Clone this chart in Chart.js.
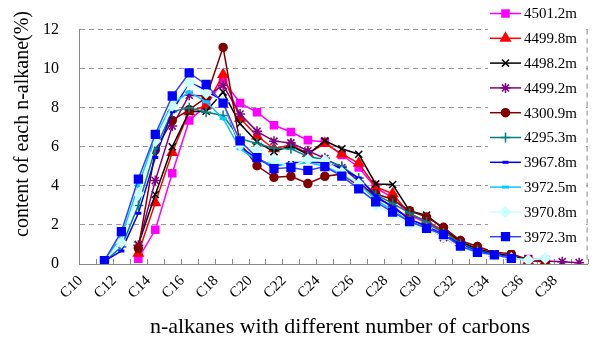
<!DOCTYPE html>
<html lang="en">
<head>
    <meta charset="UTF-8">
    <title>n-alkanes</title>
    <script src="https://cdn.jsdelivr.net/npm/chart.js"></script>
    <style>
        body { margin: 0; padding: 0; background: #ffffff; }
        #wrap { width: 600px; height: 341px; }
    </style>
</head>
<body>
    <div id="wrap"><canvas id="chart" width="600" height="341"></canvas></div>

    <script>
        // categories C10 .. C39
        const categories = ['C10','C11','C12','C13','C14','C15','C16','C17','C18','C19',
                            'C20','C21','C22','C23','C24','C25','C26','C27','C28','C29',
                            'C30','C31','C32','C33','C34','C35','C36','C37','C38','C39'];
        const yTicks = [0, 2, 4, 6, 8, 10, 12];

        const d4501_2 = [null,null,null,0.27,1.75,4.65,7.35,8.1,9.4,8.24, 7.77,7.1,6.76,6.34,6.25,5.58,4.94,3.9,3.4,2.5, 2.1,1.6,1.05,0.7,0.5,0.35,0.25,0.2,null,null];
        const d4499_8 = [null,null,null,0.55,3.14,5.71,7.8,8.1,9.7,7.46, 6.55,5.9,6.1,5.66,6.17,5.63,5.16,3.95,3.6,2.55, 2.2,1.7,1.1,0.8,0.55,0.4,0.15,0.12,null,null];
        const d4498_2 = [null,null,null,1.0,3.56,6.0,7.8,7.82,8.8,7.18, 6.25,5.75,6.05,5.61,6.3,5.9,5.62,4.1,4.07,2.72, 2.5,1.8,1.15,0.75,0.55,0.4,0.25,0.15,null,null];
        const d4499_2 = [null,null,null,0.96,4.27,7.06,8.64,8.6,9.14,7.68, 6.79,6.29,6.2,5.8,5.41,4.94,4.24,3.39,2.97,2.3, 1.9,1.35,0.9,0.6,0.45,0.35,0.18,0.15,0.12,0.07];
        const d4300_9 = [null,null,null,0.8,5.83,7.35,7.9,8.52,11.09,6.17, 5.03,4.44,4.49,4.12,4.49,4.6,4.0,3.6,3.3,2.72, 2.4,1.88,1.2,0.9,0.6,0.52,0.22,0.15,null,null];
        const d4295_3 = [null,0.15,0.87,3.0,5.9,7.8,8.0,7.77,7.6,6.42, 6.17,5.92,5.9,5.5,5.35,5.0,4.4,3.55,3.1,2.6, 2.15,1.6,1.05,0.7,0.5,0.35,0.2,null,null,null];
        const d3967_8 = [null,0.15,0.67,2.6,5.45,7.8,9.3,8.9,8.3,6.0, 5.4,5.0,5.2,5.2,5.2,4.9,4.4,3.5,2.9,2.3, 1.95,1.5,1.0,0.65,0.5,0.32,0.22,null,null,null];
        const d3972_5 = [null,0.2,1.4,4.0,6.5,8.2,8.8,8.3,7.45,5.9, 5.3,5.1,5.1,5.2,5.0,4.6,4.1,3.3,2.75,2.2, 1.85,1.4,0.95,0.6,0.45,0.3,0.2,0.25,null,null];
        const d3970_8 = [null,0.15,1.1,3.6,6.3,8.1,9.3,8.75,8.3,6.1, 5.85,5.3,5.0,5.35,5.3,4.7,4.1,3.0,2.55,2.0, 1.8,1.4,0.85,0.55,0.42,0.3,0.2,0.3,null,null];
        const d3972_3 = [null,0.17,1.66,4.35,6.64,8.6,9.78,9.19,8.24,6.3, 5.45,4.88,4.94,4.79,4.99,4.5,3.85,3.18,2.66,2.17, 1.83,1.5,0.91,0.6,0.47,0.29,null,null,null,null];

        const serif = "'Times New Roman', 'Liberation Serif', serif";

        function series(label, data, color, lineColor, style, radius) {
            return {
                label: label,
                data: data,
                borderColor: lineColor,
                backgroundColor: color,
                borderWidth: 1.5,
                pointStyle: style,
                pointRadius: radius,
                pointBackgroundColor: color,
                pointBorderColor: color,
                pointBorderWidth: (style === 'line' ? 3 : 1.5),
                tension: 0,
                spanGaps: false
            };
        }

        const datasets = [
            series('4501.2m', d4501_2, '#FF00FF', '#FF00FF', 'rect', 5),
            series('4499.8m', d4499_8, '#FF0000', '#FF0000', 'triangle', 5.5),
            series('4498.2m', d4498_2, '#000000', '#000000', 'crossRot', 5),
            series('4499.2m', d4499_2, '#800080', '#800080', 'star', 5),
            series('4300.9m', d4300_9, '#800000', '#800000', 'circle', 4),
            series('4295.3m', d4295_3, '#008080', '#008080', 'cross', 5),
            series('3967.8m', d3967_8, '#0000FF', '#0000FF', 'line', 3),
            series('3972.5m', d3972_5, '#00CCFF', '#00CCFF', 'line', 3.5),
            series('3970.8m', d3970_8, '#CCFFFF', '#CCFFFF', 'rectRot', 5),
            series('3972.3m', d3972_3, '#0000FF', '#3344FF', 'rect', 5.5)
        ];
        // Excel draws later series on top
        datasets.forEach((ds, i) => { ds.order = datasets.length - i; });

        // inner tick marks, dashed right border, axis titles and legend
        const extras = {
            id: 'extras',
            beforeDatasetsDraw(chart) {
                const ctx = chart.ctx;
                const a = chart.chartArea;
                const n = categories.length;
                ctx.save();
                ctx.strokeStyle = '#888888';
                ctx.lineWidth = 1;
                ctx.beginPath();
                for (let i = 0; i <= n; i++) {
                    const x = Math.round(a.left + i * (a.right - a.left) / n) + 0.5;
                    ctx.moveTo(x, a.bottom);
                    ctx.lineTo(x, a.bottom - 5);
                }
                ctx.stroke();
                ctx.setLineDash([5, 4]);
                ctx.beginPath();
                ctx.moveTo(a.right - 0.5, a.top);
                ctx.lineTo(a.right - 0.5, a.bottom);
                ctx.stroke();
                ctx.restore();
            },
            afterDraw(chart) {
                const ctx = chart.ctx;
                ctx.save();
                ctx.fillStyle = '#000000';
                ctx.textAlign = 'center';
                ctx.textBaseline = 'middle';
                ctx.font = '22px ' + serif;
                ctx.fillText('n-alkanes with different number of carbons', 340, 327);
                ctx.translate(23, 124);
                ctx.rotate(-Math.PI / 2);
                ctx.font = '20px ' + serif;
                ctx.fillText('content of each n-alkane(%)', 0, 0);
                ctx.restore();

                // legend
                ctx.save();
                ctx.fillStyle = '#ffffff';
                ctx.fillRect(488, 0, 98, 250);
                ctx.font = '15px ' + serif;
                ctx.textAlign = 'left';
                ctx.textBaseline = 'middle';
                chart.data.datasets.forEach((ds, i) => {
                    const y = 13.5 + i * 24.8;
                    ctx.strokeStyle = ds.borderColor;
                    ctx.lineWidth = 1.5;
                    ctx.beginPath();
                    ctx.moveTo(490, y);
                    ctx.lineTo(521, y);
                    ctx.stroke();
                    ctx.fillStyle = ds.pointBackgroundColor;
                    ctx.strokeStyle = ds.pointBorderColor;
                    ctx.lineWidth = ds.pointBorderWidth;
                    Chart.helpers.drawPoint(ctx, {
                        pointStyle: ds.pointStyle,
                        radius: ds.pointRadius,
                        rotation: 0,
                        borderWidth: ds.pointBorderWidth
                    }, 505.5, y);
                    ctx.fillStyle = '#000000';
                    ctx.fillText(ds.label, 524, y + 1);
                });
                ctx.restore();
            }
        };

        new Chart(document.getElementById('chart'), {
            type: 'line',
            data: { labels: categories, datasets: datasets },
            options: {
                responsive: false,
                animation: false,
                layout: { padding: { left: 0, right: 7.6, top: 15.4, bottom: 0 } },
                plugins: { legend: { display: false }, tooltip: { enabled: false } },
                scales: {
                    x: {
                        type: 'category',
                        offset: true,
                        afterFit: s => { s.height = 77; },
                        grid: { display: false, drawTicks: false },
                        border: { display: true, color: '#888888', width: 1 },
                        ticks: {
                            autoSkip: false,
                            maxRotation: 45,
                            minRotation: 45,
                            padding: 8,
                            labelOffset: -7,
                            color: '#000000',
                            font: { family: serif, size: 15 },
                            callback: (v, i) => (i % 2 === 0 ? categories[i] : '')
                        }
                    },
                    y: {
                        min: yTicks[0],
                        max: yTicks[yTicks.length - 1],
                        afterFit: s => { s.width = 79; },
                        afterBuildTicks: s => { s.ticks = yTicks.map(v => ({ value: v })); },
                        grid: { color: '#999999', lineWidth: 1, drawTicks: false },
                        border: { display: true, color: '#888888', width: 1, dash: [5, 4] },
                        ticks: {
                            padding: 20,
                            color: '#000000',
                            font: { family: serif, size: 16 }
                        }
                    }
                }
            },
            plugins: [extras]
        });
    </script>
</body>
</html>
